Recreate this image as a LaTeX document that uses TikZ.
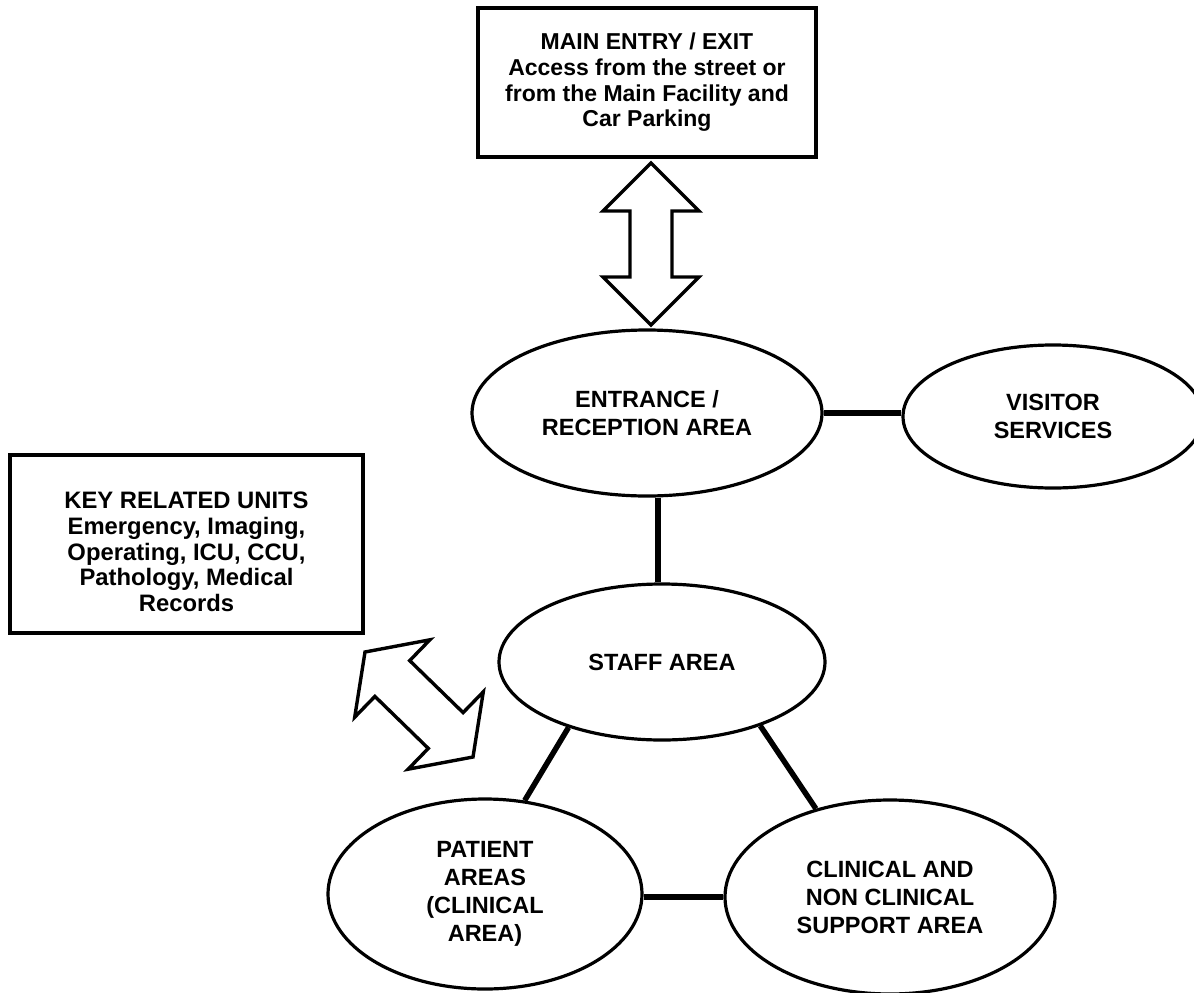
\documentclass[tikz,border=0pt]{standalone}
\usepackage{fontspec}
\setmainfont{Liberation Sans}
\usetikzlibrary{shapes.geometric}
\begin{document}
\begin{tikzpicture}[x=1pt,y=-1pt,
  outline/.style={draw=black, line width=3.2pt},
  ell/.style={outline, ellipse, inner sep=0pt, align=center, font=\fontsize{23.5}{28}\selectfont\bfseries},
  boxshape/.style={outline, rectangle, inner sep=0pt},
  boxtext/.style={align=center, inner sep=0pt, font=\fontsize{23}{25.7}\selectfont\bfseries},
  keytextstyle/.style={boxtext, font=\fontsize{23.8}{25.7}\selectfont\bfseries},
  conn/.style={line width=5.5pt},
  blockarrow/.style={draw=black, line width=3.4pt, fill=white, line join=miter}]
\path[use as bounding box, clip] (0,0) rectangle (1194,993);
\fill[white] (0,0) rectangle (1194,993);

\node[boxshape, minimum width=338pt, minimum height=149pt] (mainbox) at (647,82.5) {};
\node[boxtext] (maintext) at (647,82.5) {MAIN ENTRY / EXIT\\Access from the street or\\from the Main Facility and\\Car Parking};

\node[ell, minimum width=350pt, minimum height=166pt] (entr) at (647,413) {ENTRANCE /\\RECEPTION AREA};
\node[ell, minimum width=300pt, minimum height=143pt] (visit) at (1053,416.5) {VISITOR\\SERVICES};
\node[ell, minimum width=326pt, minimum height=156pt] (staff) at (662,662) {STAFF AREA};
\node[ell, minimum width=314pt, minimum height=190pt] (patient) at (485,894) {PATIENT\\AREAS\\(CLINICAL\\AREA)};
\node[ell, minimum width=330pt, minimum height=194pt] (clin) at (890,897) {CLINICAL AND\\NON CLINICAL\\SUPPORT AREA};

\node[boxshape, minimum width=353pt, minimum height=178pt] (keybox) at (186.5,544) {};
\node[keytextstyle] (keytext) at (186.5,552) {KEY RELATED UNITS\\Emergency, Imaging,\\Operating, ICU, CCU,\\Pathology, Medical\\Records};

\draw[conn] (entr.east) -- (entr.east -| visit.west);
\draw[conn] ([xshift=11pt]entr.south) -- ([xshift=-4pt]staff.north);
\draw[conn] (staff.215.7) -- (patient.67.4);
\draw[conn] (staff.-33) -- (clin.130);
\draw[conn] (clin.west -| patient.east) -- (clin.west);

\draw[blockarrow] (651,163) -- (699,211) -- (672,211) -- (672,277) -- (699,277) -- (651,325) -- (603,277) -- (630,277) -- (630,211) -- (603,211) -- cycle;

\draw[blockarrow] (365,652) -- (429.9,639.8) -- (409.7,660.6) -- (463.1,712.6) -- (483.3,691.8) -- (473,757) -- (408.1,769.2) -- (428.3,748.4) -- (374.9,696.4) -- (354.7,717.2) -- cycle;
\end{tikzpicture}
\end{document}
